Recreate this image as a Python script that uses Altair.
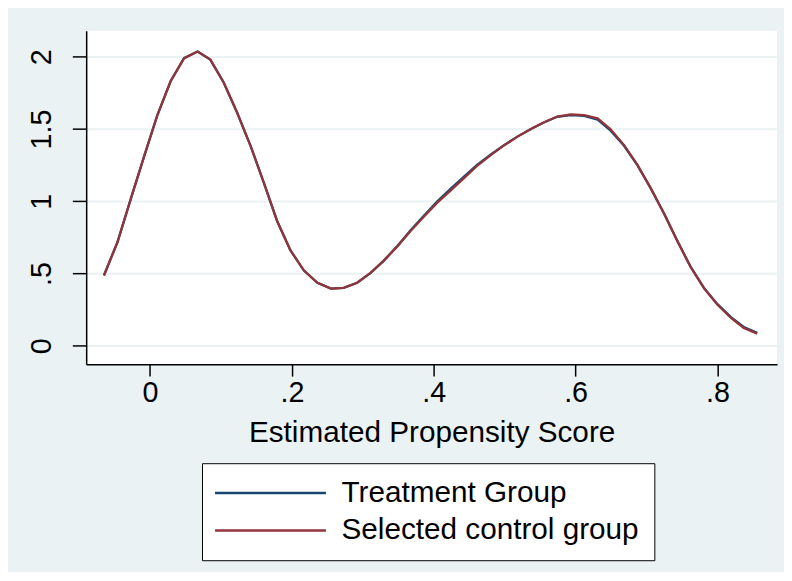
import altair as alt
import pandas as pd

# Estimated propensity score grid (kdensity evaluation points)
score = [-0.065, -0.046, -0.028, -0.009, 0.010, 0.029, 0.048, 0.067, 0.085, 0.104,
         0.123, 0.142, 0.161, 0.179, 0.198, 0.217, 0.236, 0.255, 0.273, 0.292,
         0.311, 0.330, 0.349, 0.367, 0.386, 0.405, 0.424, 0.443, 0.461, 0.480,
         0.499, 0.518, 0.537, 0.555, 0.574, 0.593, 0.612, 0.631, 0.649, 0.668,
         0.687, 0.706, 0.725, 0.743, 0.762, 0.781, 0.800, 0.819, 0.837, 0.856]

treatment = [0.486, 0.716, 1.002, 1.300, 1.590, 1.830, 1.990, 2.036, 1.980, 1.820,
             1.610, 1.380, 1.120, 0.865, 0.660, 0.520, 0.436, 0.395, 0.400, 0.436,
             0.504, 0.591, 0.692, 0.797, 0.900, 1.000, 1.087, 1.172, 1.252, 1.322,
             1.388, 1.447, 1.500, 1.545, 1.584, 1.596, 1.590, 1.565, 1.490, 1.385,
             1.250, 1.089, 0.911, 0.730, 0.548, 0.400, 0.288, 0.198, 0.130, 0.090]

control = [0.486, 0.716, 1.002, 1.300, 1.590, 1.830, 1.990, 2.036, 1.980, 1.820,
           1.610, 1.380, 1.120, 0.865, 0.660, 0.520, 0.436, 0.395, 0.400, 0.436,
           0.504, 0.591, 0.689, 0.792, 0.892, 0.990, 1.075, 1.162, 1.244, 1.317,
           1.386, 1.447, 1.500, 1.545, 1.586, 1.600, 1.596, 1.573, 1.500, 1.390,
           1.253, 1.089, 0.911, 0.728, 0.545, 0.397, 0.283, 0.192, 0.123, 0.084]

groups = ["Treatment Group", "Selected control group"]
colors = ["#1A476F", "#90353B"]
x_ticks = [0, 0.2, 0.4, 0.6, 0.8]
y_ticks = [0, 0.5, 1, 1.5, 2]

df = pd.DataFrame(
    [{"score": s, "density": d, "group": groups[0]} for s, d in zip(score, treatment)]
    + [{"score": s, "density": d, "group": groups[1]} for s, d in zip(score, control)]
)

FONT = "Liberation Sans"
label_expr = "datum.value == 0 ? '0' : replace(format(datum.value, '~g'), '0.', '.')"

x = alt.X(
    "score:Q",
    scale=alt.Scale(domain=[-0.09, 0.884], nice=False, zero=False),
    axis=alt.Axis(
        values=x_ticks, title="Estimated Propensity Score", grid=False,
        labelExpr=label_expr, labelFontSize=29, titleFontSize=30,
        titleFontWeight="normal", titleColor="black", labelColor="black",
        tickSize=12, tickWidth=1.5, tickColor="black",
        domainColor="black", domainWidth=1.5, labelPadding=3, titlePadding=10,
        labelFont=FONT, titleFont=FONT, labelFlush=False,
    ),
)
y = alt.Y(
    "density:Q",
    scale=alt.Scale(domain=[-0.128, 2.18], nice=False, zero=False),
    axis=alt.Axis(
        values=y_ticks, title=None, grid=True, gridColor="#EAF2F3", gridWidth=2,
        labelExpr=label_expr, labelFontSize=29, labelAngle=270,
        labelAlign="center", labelBaseline="alphabetic", labelColor="black",
        tickSize=14, tickWidth=1.5, tickColor="black",
        domainColor="black", domainWidth=1.5, labelPadding=22,
        labelFont=FONT, labelFlush=False,
    ),
)
color = alt.Color(
    "group:N",
    scale=alt.Scale(domain=groups, range=colors),
    legend=alt.Legend(
        title=None, orient="none", legendX=117, legendY=437,
        direction="vertical", fillColor="white", strokeColor="black",
        padding=15, labelFontSize=30, labelFont=FONT, labelColor="black",
        symbolType="M-2.4,0H13.6", symbolSize=196, symbolStrokeWidth=2.5,
        labelOffset=96, rowPadding=8, labelLimit=600,
    ),
)

base = alt.Chart(df).mark_line(strokeWidth=2.3).encode(x=x, y=y, color=color)
treat_layer = base.transform_filter(alt.datum.group == groups[0])
ctrl_layer = base.transform_filter(alt.datum.group == groups[1])

chart = alt.layer(treat_layer, ctrl_layer).properties(
    width=698, height=337,
    autosize=alt.AutoSizeParams(type="none"),
    padding={"left": 79, "top": 20, "right": 7, "bottom": 207},
    background="#EAF2F3",
).configure_view(fill="white", stroke=None)

chart.save("out.html", embed_options={"renderer": "svg", "actions": False})
